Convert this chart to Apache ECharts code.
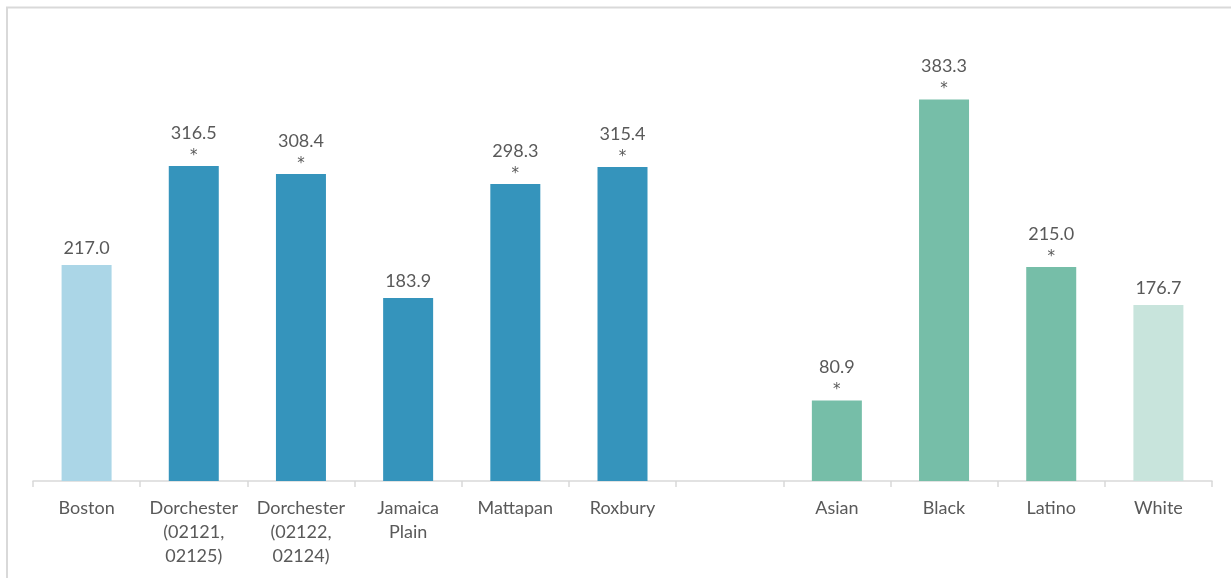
<!DOCTYPE html>
<html>
<head>
<meta charset="utf-8">
<script src="https://cdn.jsdelivr.net/npm/echarts@6/dist/echarts.min.js"></script>
<style>
  html, body { margin: 0; padding: 0; background: #fff; }
  #chart { width: 1231px; height: 578px; }
</style>
</head>
<body>
<div id="chart"></div>
<script>
// Neighborhoods, then a spacer slot, then race/ethnicity groups
const categories = [
  'Boston', 'Dorchester\n(02121,\n02125)', 'Dorchester\n(02122,\n02124)', 'Jamaica\nPlain',
  'Mattapan', 'Roxbury', '', 'Asian', 'Black', 'Latino', 'White'
];
const rates = [217.0, 316.5, 308.4, 183.9, 298.3, 315.4, null, 80.9, 383.3, 215.0, 176.7];
// '*' marks a statistically significant difference from the Boston rate
const significant = [false, true, true, false, true, true, false, true, true, true, false];
const barColors = [
  '#ABD6E7', '#3594BC', '#3594BC', '#3594BC', '#3594BC', '#3594BC', '#3594BC',
  '#76BEA8', '#76BEA8', '#76BEA8', '#C8E4DC'
];

const chart = echarts.init(document.getElementById('chart'));
const textColor = '#595959';
const fontFamily = 'Lato, "Liberation Sans", sans-serif';

chart.setOption({
  animation: false,
  graphic: [{
    type: 'polyline',
    shape: { points: [[7, 578], [7, 7.5], [1231, 7.5]] },
    style: { stroke: '#D9D9D9', lineWidth: 2, fill: null }
  }],
  grid: { left: 33, right: 19, top: 33, bottom: 97 },
  xAxis: {
    type: 'category',
    data: categories,
    axisLine: { lineStyle: { color: '#D9D9D9', width: 1.5 } },
    axisTick: { show: true, length: 6, lineStyle: { color: '#D9D9D9', width: 1.5 } },
    axisLabel: {
      color: textColor, fontSize: 18, fontFamily: fontFamily,
      lineHeight: 24, margin: 15, interval: 0
    }
  },
  yAxis: {
    type: 'value', min: 0, max: 450,
    show: false, splitLine: { show: false }
  },
  series: [{
    type: 'bar',
    barWidth: 50,
    data: rates.map((v, i) => ({ value: v, itemStyle: { color: barColors[i] } })),
    label: {
      show: true,
      position: 'top',
      distance: 2,
      formatter: p => {
        if (p.value == null) return '';
        const txt = '{v|' + p.value.toFixed(1) + '}';
        return significant[p.dataIndex] ? txt + '\n{s|*}' : txt;
      },
      rich: {
        v: { color: textColor, fontSize: 18, fontFamily: fontFamily, lineHeight: 30 },
        s: { color: textColor, fontSize: 15, fontFamily: '"DejaVu Sans", sans-serif', lineHeight: 16 }
      }
    }
  }]
});
</script>
</body>
</html>
